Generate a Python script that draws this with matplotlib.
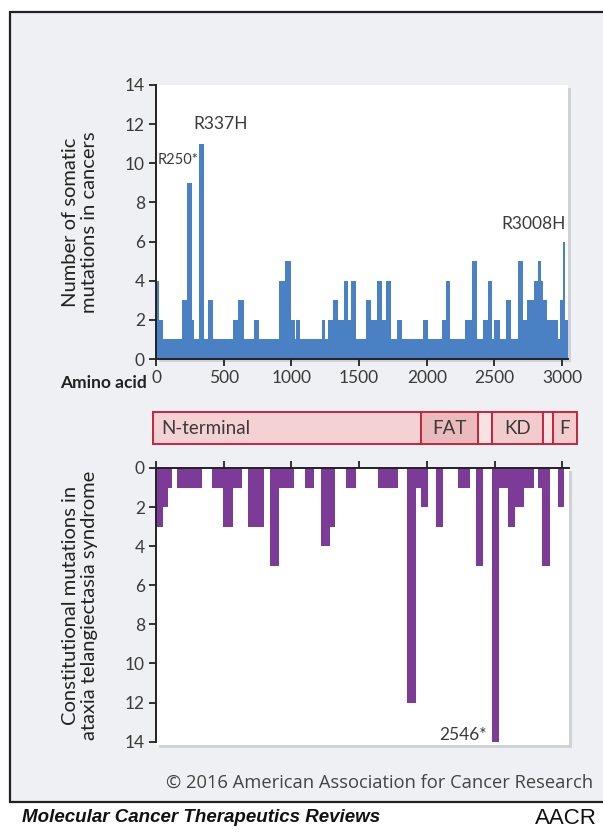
import matplotlib
matplotlib.use("Agg")
import matplotlib.pyplot as plt
from matplotlib.patches import Rectangle
import numpy as np

# ---------------- data ----------------
# Somatic mutations in cancers (step histogram along amino-acid position)
top_edges = [0, 25, 49, 190, 226, 263, 281, 318, 354, 386, 424, 571, 608, 650, 726, 763,
             911, 953, 995, 1029, 1036, 1066, 1226, 1250, 1270, 1307, 1344, 1388, 1418,
             1443, 1480, 1553, 1590, 1634, 1671, 1701, 1738, 1782, 1817, 1972, 2009, 2112,
             2142, 2171, 2282, 2331, 2368, 2417, 2449, 2479, 2493, 2540, 2585, 2622, 2671,
             2708, 2737, 2794, 2818, 2843, 2860, 2885, 2966, 2986, 3003, 3020, 3045]
top_counts = [4, 2, 1, 3, 9, 2, 1, 11, 1, 3, 1, 2, 3, 1, 2,
              1, 4, 5, 2, 1, 2, 1, 2, 1, 2, 3, 2, 4,
              2, 4, 1, 3, 2, 4, 2, 4, 1, 2, 1, 2, 1,
              2, 4, 1, 2, 5, 1, 2, 4, 1, 2, 1, 3, 1,
              5, 2, 3, 4, 5, 4, 3, 2, 1, 3, 6, 2]

# Constitutional mutations in ataxia telangiectasia syndrome
bot_edges = [0, 49, 91, 116, 158, 342, 416, 497, 566, 637, 677, 797, 842, 908, 1022,
             1098, 1165, 1221, 1282, 1324, 1405, 1480, 1640, 1787, 1856, 1922, 1955,
             2012, 2068, 2122, 2228, 2321, 2363, 2417, 2481, 2535, 2597, 2653, 2720,
             2794, 2818, 2851, 2910, 2966, 3015]
bot_counts = [3, 2, 1, 0, 1, 0, 1, 3, 1, 0, 3, 0, 5, 1,
              0, 1, 0, 4, 3, 0, 1, 0, 1, 0, 12, 1, 2,
              0, 3, 0, 1, 0, 5, 0, 14, 1, 3, 2, 1,
              0, 1, 5, 0, 2]

x_ticks = [0, 500, 1000, 1500, 2000, 2500, 3000]
y_ticks = [0, 2, 4, 6, 8, 10, 12, 14]

top_labels = [("R250*", 15, 10.15), ("R337H", 481, 12.0), ("R3008H", 3030, 6.9)]
bot_labels = [("2546*", 2445, 13.66)]

domain_names = ["N-terminal", "FAT", "", "KD", "", "F"]
domain_starts = [-24, 1957, 2380, 2479, 2860, 2929]
domain_ends = [1957, 2380, 2479, 2860, 2929, 3111]
domain_fills = ["#f4d1d2", "#ebbabc", "#f7e2e2", "#f2cccd", "#f7e2e2", "#f2cccd"]

# ---------------- style ----------------
FONT = ["Lato", "DejaVu Sans"]
plt.rcParams["font.family"] = FONT
TXT = "#3a3a3a"
BLUE = "#4a80c4"
PURPLE = "#7b3b97"
PANEL = "#eef0f3"

W, H = 603, 832
fig = plt.figure(figsize=(W / 100, H / 100), dpi=100)
fig.patch.set_facecolor("white")


def rect(x0, y0, x1, y1):
    return [x0 / W, 1 - y1 / H, (x1 - x0) / W, (y1 - y0) / H]


# outer frame / panel
fig.patches.append(Rectangle((10 / W, 1 - 802 / H), 600 / W, (802 - 12) / H,
                             transform=fig.transFigure, facecolor=PANEL,
                             edgecolor="#222222", linewidth=1.6, zorder=-3))

# shadows behind white plot areas
for (x0, y0, x1, y1) in [(156, 85, 568, 359), (156, 468, 569, 745)]:
    fig.patches.append(Rectangle(((x0 + 3) / W, 1 - (y1 + 3) / H), (x1 - x0) / W,
                                 (y1 - y0) / H, transform=fig.transFigure,
                                 facecolor="#cfd2d6", edgecolor="none", zorder=-2))

# ---------------- top chart ----------------
ax1 = fig.add_axes(rect(156, 85, 568, 359))
ax1.stairs(top_counts, top_edges, fill=True, color=BLUE, baseline=0)
ax1.set_xlim(0, 3043)
ax1.set_ylim(0, 14)
ax1.set_xticks(x_ticks)
ax1.set_yticks(y_ticks)
for s in ["top", "right"]:
    ax1.spines[s].set_visible(False)
for s in ["left", "bottom"]:
    ax1.spines[s].set_linewidth(1.4)
    ax1.spines[s].set_color("#222222")
ax1.tick_params(direction="out", length=5, width=1.3, color="#222222",
                labelsize=12.5, labelcolor=TXT, pad=3)
for txt, x, y in top_labels:
    ha = "left" if txt.startswith("R250") else ("right" if txt.startswith("R3008") else "center")
    fs = 10.5 if txt.startswith("R250") else 12.5
    ax1.text(x, y, txt, ha=ha, va="center", fontsize=fs, color=TXT)

fig.text(147 / W, 1 - 383 / H, "Amino acid", ha="right", va="center",
         fontsize=12.5, fontweight="bold", color="#222222")
fig.text(80 / W, 1 - 222 / H, "Number of somatic\nmutations in cancers", rotation=90,
         ha="center", va="center", fontsize=14.5, color="#222222", linespacing=1.2,
         multialignment="center")

# ---------------- domain bar ----------------
axd = fig.add_axes(rect(152.7, 411.7, 577.3, 445))
axd.set_xlim(-24.4, 3111)
axd.set_ylim(0, 1)
axd.axis("off")
for name, s, e, c in zip(domain_names, domain_starts, domain_ends, domain_fills):
    axd.add_patch(Rectangle((s, 0.02), e - s, 0.96, facecolor=c, edgecolor="#c4243f",
                            linewidth=1.4, clip_on=False))
    if name:
        if name == "N-terminal":
            axd.text(s + 60, 0.5, name, ha="left", va="center", fontsize=13.5, color=TXT)
        else:
            axd.text((s + e) / 2, 0.5, name, ha="center", va="center", fontsize=13.5, color=TXT)

# ---------------- bottom chart ----------------
ax2 = fig.add_axes(rect(156, 468, 569, 745))
ax2.stairs(bot_counts, bot_edges, fill=True, color=PURPLE, baseline=0)
ax2.set_xlim(0, 3050)
ax2.set_ylim(14.17, 0)
ax2.set_xticks(x_ticks)
ax2.set_yticks(y_ticks)
ax2.xaxis.tick_top()
ax2.tick_params(axis="x", labeltop=False, labelbottom=False)
for s in ["bottom", "right"]:
    ax2.spines[s].set_visible(False)
for s in ["left", "top"]:
    ax2.spines[s].set_linewidth(1.4)
    ax2.spines[s].set_color("#222222")
ax2.spines["left"].set_bounds(0, 14)
ax2.tick_params(direction="out", length=5, width=1.3, color="#222222",
                labelsize=12.5, labelcolor=TXT, pad=3)
for txt, x, y in bot_labels:
    ax2.text(x, y, txt, ha="right", va="center", fontsize=12.5, color=TXT)

fig.text(80 / W, 1 - 605 / H, "Constitutional mutations in\nataxia telangiectasia syndrome",
         rotation=90, ha="center", va="center", fontsize=14.5, color="#222222",
         linespacing=1.2, multialignment="center")

# ---------------- footer ----------------
fig.text(593 / W, 1 - 783 / H, "\u00a9 2016 American Association for Cancer Research",
         ha="right", va="center", fontsize=13.2, color="#444444",
         family=["Open Sans", "DejaVu Sans"])
fig.text(22 / W, 1 - 818 / H, "Molecular Cancer Therapeutics Reviews", ha="left",
         va="center", fontsize=13.5, fontweight="bold", fontstyle="italic",
         family=["Liberation Sans", "DejaVu Sans"], color="#111111")
fig.text(597 / W, 1 - 818 / H, "AACR", ha="right", va="center", fontsize=16,
         family=["Liberation Sans", "DejaVu Sans"], color="#111111")

fig.savefig("out.png", dpi=100, facecolor=fig.get_facecolor())
